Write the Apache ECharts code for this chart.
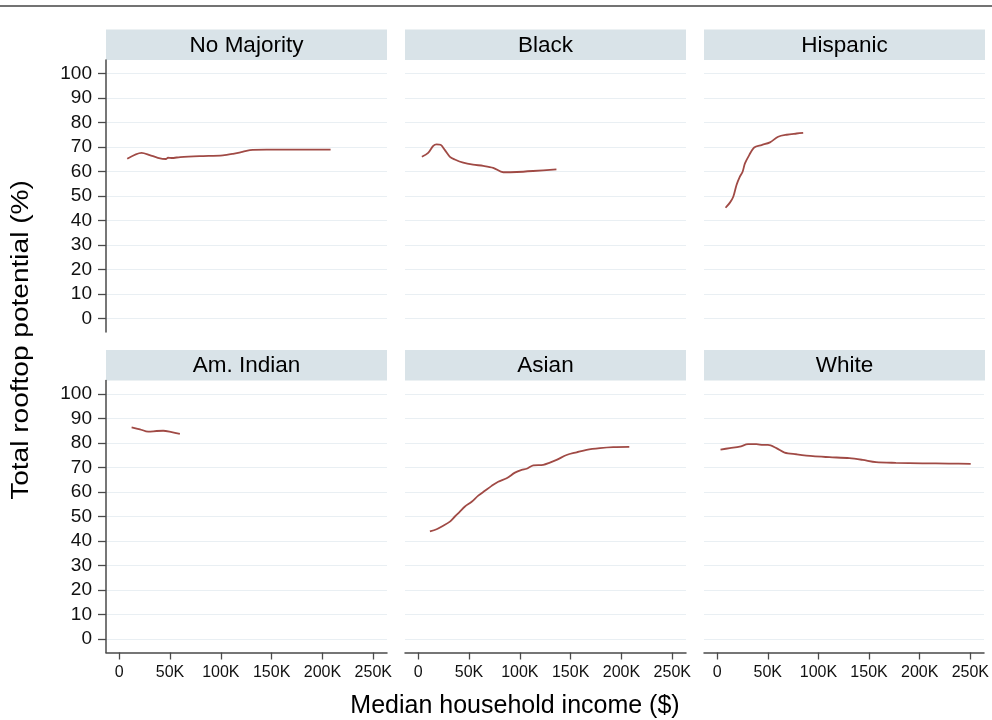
<!DOCTYPE html>
<html>
<head>
<meta charset="utf-8">
<script src="https://cdn.jsdelivr.net/npm/echarts@6/dist/echarts.min.js"></script>
<style>html,body{margin:0;padding:0;background:#fff}#c{width:992px;height:720px}</style>
</head>
<body>
<div id="c"></div>
<script>
// ---- data ----
const panelNames = ['No Majority', 'Black', 'Hispanic', 'Am. Indian', 'Asian', 'White'];
const yTicks = [0, 10, 20, 30, 40, 50, 60, 70, 80, 90, 100];
const xTicks = [0, 50000, 100000, 150000, 200000, 250000];

const incomeNoMajority = [7900, 22000, 30000, 38000, 46000, 48000, 51500, 60000, 79000, 102000, 112000, 120000, 128600, 145000, 178000, 208000];
const potentialNoMajority = [65.2, 67.6, 66.7, 65.6, 65.1, 65.6, 65.5, 65.9, 66.3, 66.6, 67.2, 67.9, 68.7, 68.9, 68.9, 68.9];

const incomeBlack = [3600, 9800, 14800, 18000, 22000, 26300, 31200, 36000, 44300, 54000, 64000, 73800, 83700, 96900, 113000, 136000];
const potentialBlack = [66.0, 67.6, 70.5, 71.1, 70.9, 68.7, 66.0, 64.9, 63.6, 62.8, 62.3, 61.5, 59.7, 59.8, 60.2, 60.9];

const incomeHispanic = [8200, 12500, 15800, 19000, 22300, 25000, 27300, 31500, 36400, 43700, 51900, 60000, 68300, 78100, 84600];
const potentialHispanic = [45.2, 47.3, 49.7, 54.5, 57.9, 59.9, 63.3, 66.7, 69.8, 70.8, 71.9, 74.2, 75.0, 75.5, 75.8];

const incomeAmIndian = [12200, 20400, 28500, 36800, 43300, 51600, 59700];
const potentialAmIndian = [86.4, 85.6, 84.6, 84.9, 85.0, 84.4, 83.7];

const incomeAsian = [11500, 18100, 24600, 31200, 36100, 41000, 46000, 52600, 59100, 65600, 72200, 78700, 87000, 95200, 101800, 106700, 113200, 123000, 129600, 136200, 146000, 155900, 165700, 178800, 191900, 207700];
const potentialAsian = [43.9, 44.8, 46.2, 47.9, 50.0, 52.0, 54.1, 56.0, 58.5, 60.5, 62.5, 64.2, 65.6, 67.9, 69.0, 69.5, 70.9, 71.1, 72.0, 73.1, 75.1, 76.2, 77.2, 77.9, 78.3, 78.4];

const incomeWhite = [3300, 12500, 22300, 30500, 38800, 45300, 50200, 58500, 66600, 78100, 94500, 110900, 130600, 143700, 156900, 176600, 202800, 229000, 250400];
const potentialWhite = [77.3, 77.9, 78.5, 79.5, 79.5, 79.2, 79.2, 77.9, 76.1, 75.4, 74.6, 74.2, 73.8, 73.1, 72.2, 71.9, 71.7, 71.6, 71.5];

const incomes = [incomeNoMajority, incomeBlack, incomeHispanic, incomeAmIndian, incomeAsian, incomeWhite];
const potentials = [potentialNoMajority, potentialBlack, potentialHispanic, potentialAmIndian, potentialAsian, potentialWhite];

// ---- layout ----
const FONT = 'Liberation Sans, Arial, Helvetica, sans-serif';
const colLeft = [106, 405, 704];
const panelW = 281;
const rowTop = [60, 380.5];
const panelH = 272;
const headerH = 30.5;
const lineColor = '#a04a45';
const axisColor = '#4a4a4a';
const gridColor = '#e9eff3';
const headerColor = '#d9e3e8';

const grids = [], xAxes = [], yAxes = [], series = [], graphics = [];

graphics.push({ type: 'line', shape: { x1: 0, y1: 6, x2: 992, y2: 6 }, style: { stroke: '#444', lineWidth: 1.5 } });

for (let i = 0; i < 6; i++) {
  const r = Math.floor(i / 3), c = i % 3;
  grids.push({ left: colLeft[c], top: rowTop[r], width: panelW, height: panelH });
  graphics.push({ type: 'rect', shape: { x: colLeft[c], y: rowTop[r] - headerH, width: panelW, height: headerH }, style: { fill: headerColor } });
  graphics.push({ type: 'text', x: colLeft[c] + panelW / 2, y: rowTop[r] - headerH / 2 + 1, style: { text: panelNames[i], fill: '#000', font: '22.5px ' + FONT, textAlign: 'center', textVerticalAlign: 'middle' } });
  const bottom = r === 1;
  xAxes.push({
    type: 'value', gridIndex: i, min: -13000, max: 263500,
    show: bottom,
    axisLine: { show: true, onZero: false, lineStyle: { color: axisColor, width: 1.5 } },
    axisTick: { show: true, length: 7, lineStyle: { color: axisColor, width: 1.3 }, customValues: xTicks },
    axisLabel: { show: true, customValues: xTicks, margin: 12, color: '#111', fontSize: 16, fontFamily: FONT,
      formatter: v => v === 0 ? '0' : (v / 1000) + 'K' },
    splitLine: { show: false }
  });
  const left = c === 0;
  yAxes.push({
    type: 'value', gridIndex: i, min: -5.5, max: 105.5,
    axisLine: { show: left, onZero: false, lineStyle: { color: axisColor, width: 1.5 } },
    axisTick: { show: left, length: 8, lineStyle: { color: axisColor, width: 1.3 }, customValues: yTicks },
    axisLabel: { show: left, customValues: yTicks, margin: 14, color: '#111', fontSize: 19, fontFamily: FONT },
    splitLine: { show: true, lineStyle: { color: gridColor, width: 1.2 } }
  });
  series.push({
    type: 'line', xAxisIndex: i, yAxisIndex: i, showSymbol: false, smooth: 0.3,
    lineStyle: { color: lineColor, width: 1.8 },
    data: incomes[i].map((x, k) => [x, potentials[i][k]])
  });
}

graphics.push({ type: 'text', x: 22, y: 340, rotation: Math.PI / 2, scaleX: 1.22, style: { text: 'Total rooftop potential (%)', fill: '#000', font: '23px ' + FONT, textAlign: 'center', textVerticalAlign: 'middle' } });
graphics.push({ type: 'text', x: 515, y: 706, style: { text: 'Median household income ($)', fill: '#000', font: '25px ' + FONT, textAlign: 'center', textVerticalAlign: 'middle' } });

const chart = echarts.init(document.getElementById('c'), null, { renderer: 'canvas' });
chart.setOption({
  backgroundColor: '#fff',
  animation: false,
  grid: grids, xAxis: xAxes, yAxis: yAxes, series: series,
  graphic: graphics
});
</script>
</body>
</html>
